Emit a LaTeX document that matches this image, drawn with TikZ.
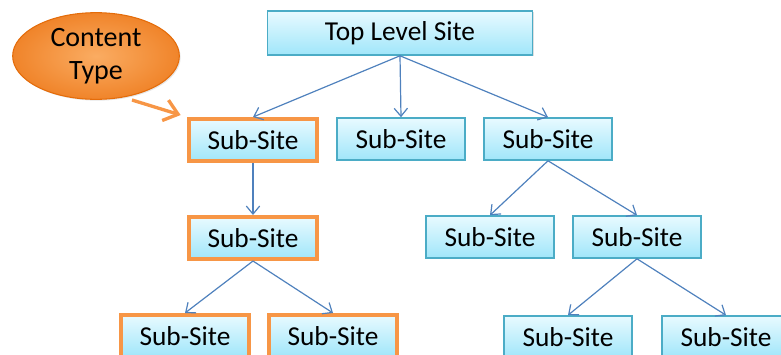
\documentclass[tikz,border=0pt]{standalone}
\usepackage{fontspec}
\setmainfont{Carlito}
\usetikzlibrary{shadows,arrows.meta,shapes.geometric}

\definecolor{siteline}{RGB}{75,172,198}
\definecolor{sitetop}{RGB}{232,250,255}
\definecolor{sitebot}{RGB}{160,230,250}
\definecolor{linkblue}{RGB}{79,129,189}
\definecolor{ctorange}{RGB}{247,150,70}
\definecolor{ctlight}{RGB}{250,172,98}
\definecolor{ctmid}{RGB}{240,132,42}
\definecolor{ctdark}{RGB}{228,108,10}

\tikzset{
  site/.style={draw=siteline, line width=1.2pt, top color=sitetop, bottom color=sitebot,
    minimum width=96pt, minimum height=31.5pt, inner sep=0pt,
    drop shadow={opacity=0.25, shadow xshift=1pt, shadow yshift=-1pt},
    font=\fontsize{20.5}{24}\selectfont},
  typed/.style={site, draw=ctorange, line width=3pt},
  link/.style={draw=linkblue, line width=0.9pt, -{Straight Barb[length=6pt,width=10pt]}},
}

\begin{document}
\begin{tikzpicture}[x=0.75pt,y=-0.75pt]
  \useasboundingbox (0,0) rectangle (781,354);

  \node[site, minimum width=199pt, minimum height=33pt] (top) at (400,33) {Top Level Site};

  \node[typed] (left) at (253,140) {Sub-Site};
  \node[site] (mid) at (401,139) {Sub-Site};
  \node[site] (right) at (548,139) {Sub-Site};

  \node[typed] (left2) at (253,238) {Sub-Site};
  \node[site] (right2a) at (490,237) {Sub-Site};
  \node[site] (right2b) at (637,237) {Sub-Site};

  \node[typed] (left3a) at (185,336) {Sub-Site};
  \node[typed] (left3b) at (333,336) {Sub-Site};
  \node[site] (right3a) at (568,337) {Sub-Site};
  \node[site] (right3b) at (726,337) {Sub-Site};

  \node[ellipse, draw=ctdark, line width=0.8pt, inner color=ctlight, outer color=ctmid,
    minimum width=125pt, minimum height=65pt, inner sep=0pt, align=center,
    drop shadow={opacity=0.2, shadow xshift=1pt, shadow yshift=-1pt},
    font=\fontsize{21}{25}\selectfont] (ctype) at (96,56) {Content\\Type};

  \draw[link] (top.south) -- (left.north);
  \draw[link] (top.south) -- (mid.north);
  \draw[link] (top.south) -- (right.north);
  \draw[link] (left.south) -- (left2.north);
  \draw[link] (left2.south) -- (left3a.north);
  \draw[link] (left2.south) -- (left3b.north);
  \draw[link] (right.south) -- (right2a.north);
  \draw[link] (right.south) -- (right2b.north);
  \draw[link] (right2b.south) -- (right3a.north);
  \draw[link] (right2b.south) -- (right3b.north);

  % pointer from the content type to the first sub-site
  \coordinate (ctstart) at (132,100);
  \draw[draw=ctorange, line width=2.5pt, shorten >=5pt,
    -{Straight Barb[length=10pt,width=16pt]}]
    (ctstart) -- (left.north west);
\end{tikzpicture}
\end{document}
